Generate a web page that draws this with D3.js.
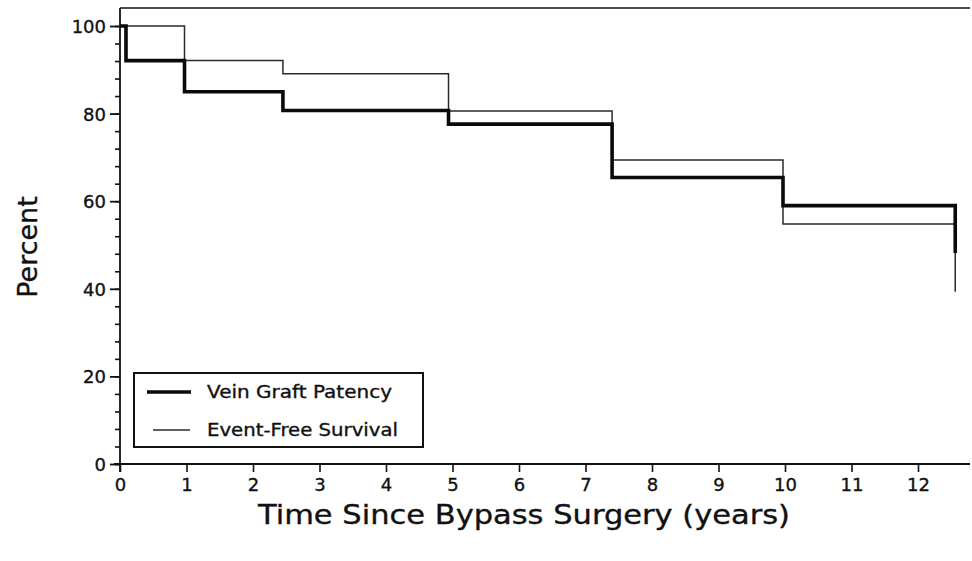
<!DOCTYPE html>
<html>
<head>
<meta charset="utf-8">
<script src="https://cdn.jsdelivr.net/npm/d3@7/dist/d3.min.js"></script>
<style>
  html, body { margin: 0; padding: 0; background: #fff; }
  svg { display: block; }
  text { font-family: "DejaVu Sans", Arial, sans-serif; fill: #111; stroke: #111; stroke-width: 0.35px; }
</style>
</head>
<body>
<svg id="chart" width="972" height="561"></svg>
<script>
// ---- data ----
const xTickValues = [0, 1, 2, 3, 4, 5, 6, 7, 8, 9, 10, 11, 12];
const yTickValues = [0, 20, 40, 60, 80, 100];
const yMinorTickValues = d3.range(0, 101, 4);

const patencyTimes  = [0, 0.09, 0.97, 2.45, 4.94, 7.40, 9.97, 12.56];
const patencyValues = [100, 92.1, 85.0, 80.7, 77.6, 65.4, 59.0, 48.2];

const survivalTimes  = [0, 0.97, 2.45, 4.94, 7.40, 9.97, 12.56];
const survivalValues = [100, 92.1, 89.1, 80.6, 69.4, 54.8, 39.3];

const seriesNames = ["Vein Graft Patency", "Event-Free Survival"];
const xTitle = "Time Since Bypass Surgery (years)";
const yTitle = "Percent";

// ---- layout ----
const svg = d3.select("#chart");
const plotLeft = 120, plotRight = 970, plotTop = 8, plotBottom = 464;
const x = d3.scaleLinear().domain([0, 12]).range([120, 918]);
const y = d3.scaleLinear().domain([0, 100]).range([464, 26]);

// frame: top border, left axis line, bottom axis line
svg.append("line").attr("x1", plotLeft).attr("x2", plotRight).attr("y1", plotTop).attr("y2", plotTop)
  .attr("stroke", "#111").attr("stroke-width", 1.6);
svg.append("line").attr("x1", plotLeft).attr("x2", plotLeft).attr("y1", plotTop).attr("y2", plotBottom + 8)
  .attr("stroke", "#111").attr("stroke-width", 1.8);
svg.append("line").attr("x1", plotLeft - 6).attr("x2", plotRight).attr("y1", plotBottom).attr("y2", plotBottom)
  .attr("stroke", "#111").attr("stroke-width", 1.8);

// y minor ticks
const yMinor = svg.append("g").attr("transform", `translate(${plotLeft},0)`)
  .call(d3.axisLeft(y).tickValues(yMinorTickValues).tickSize(5).tickFormat(""));
yMinor.select(".domain").remove();
yMinor.selectAll("line").attr("stroke", "#111").attr("stroke-width", 1.6);

// y major ticks
const yAxis = svg.append("g").attr("transform", `translate(${plotLeft},0)`)
  .call(d3.axisLeft(y).tickValues(yTickValues).tickSize(10).tickPadding(4));
yAxis.select(".domain").remove();
yAxis.selectAll("line").attr("stroke", "#111").attr("stroke-width", 1.8);
yAxis.selectAll("text").attr("font-size", 18).attr("fill", "#111")
  .attr("font-family", "'DejaVu Sans', Arial, sans-serif").attr("dy", "0.36em");

// x ticks
const xAxis = svg.append("g").attr("transform", `translate(0,${plotBottom})`)
  .call(d3.axisBottom(x).tickValues(xTickValues).tickSize(8).tickPadding(6));
xAxis.select(".domain").remove();
xAxis.selectAll("line").attr("stroke", "#111").attr("stroke-width", 1.6);
xAxis.selectAll("text").attr("font-size", 18).attr("fill", "#111")
  .attr("font-family", "'DejaVu Sans', Arial, sans-serif");

// series lines
const line = d3.line().x(d => x(d[0])).y(d => y(d[1])).curve(d3.curveStepAfter);
const survivalPts = survivalTimes.map((t, i) => [t, survivalValues[i]]);
const patencyPts = patencyTimes.map((t, i) => [t, patencyValues[i]]);

svg.append("path").attr("d", line(survivalPts))
  .attr("fill", "none").attr("stroke", "#2a2a2a").attr("stroke-width", 1.5);
svg.append("path").attr("d", line(patencyPts))
  .attr("fill", "none").attr("stroke", "#0a0a0a").attr("stroke-width", 3.6);

// legend
svg.append("rect").attr("x", 134).attr("y", 373).attr("width", 289).attr("height", 74)
  .attr("fill", "#fff").attr("stroke", "#111").attr("stroke-width", 2);
svg.append("line").attr("x1", 147).attr("x2", 191).attr("y1", 392).attr("y2", 392)
  .attr("stroke", "#0a0a0a").attr("stroke-width", 3.6);
svg.append("line").attr("x1", 153).attr("x2", 190).attr("y1", 430).attr("y2", 430)
  .attr("stroke", "#2a2a2a").attr("stroke-width", 1.6);
svg.append("text").attr("x", 207).attr("y", 398).attr("font-size", 17)
  .attr("textLength", 185).attr("lengthAdjust", "spacingAndGlyphs").text(seriesNames[0]);
svg.append("text").attr("x", 207).attr("y", 436).attr("font-size", 17)
  .attr("textLength", 191).attr("lengthAdjust", "spacingAndGlyphs").text(seriesNames[1]);

// axis titles
svg.append("text").attr("x", 258).attr("y", 524).attr("font-size", 27)
  .attr("textLength", 532).attr("lengthAdjust", "spacingAndGlyphs").text(xTitle);
svg.append("text").attr("transform", "translate(37,247) rotate(-90)")
  .attr("text-anchor", "middle").attr("font-size", 27).text(yTitle);
</script>
</body>
</html>
